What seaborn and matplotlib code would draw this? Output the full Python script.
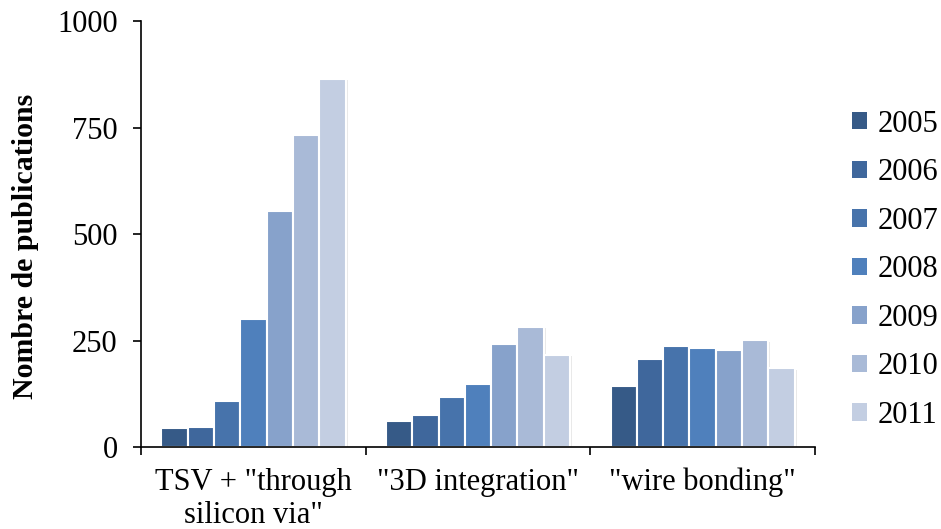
import pandas as pd
import matplotlib.pyplot as plt
import matplotlib.patheffects as pe
from matplotlib.patches import Patch
import seaborn as sns

# Data
categories = ['TSV + "through\nsilicon via"', '"3D integration"', '"wire bonding"']
years = ['2005', '2006', '2007', '2008', '2009', '2010', '2011']
tsv = [44, 46, 109, 300, 555, 732, 864]
integration_3d = [60, 74, 118, 149, 241, 282, 217]
wire_bonding = [144, 206, 238, 233, 228, 251, 185]
colors = ['#365A87', '#3F679C', '#4773AB', '#4F80BC', '#87A2CB', '#A9BAD7', '#C3CEE2']

rows = []
for cat, vals in zip(categories, [tsv, integration_3d, wire_bonding]):
    for yr, v in zip(years, vals):
        rows.append({'category': cat, 'year': yr, 'count': v})
df = pd.DataFrame(rows)

sns.set_style('white')
plt.rcParams['font.family'] = ['Liberation Serif', 'DejaVu Serif']
plt.rcParams['text.color'] = 'black'
plt.rcParams['xtick.color'] = 'black'
plt.rcParams['ytick.color'] = 'black'
plt.rcParams['axes.labelcolor'] = 'black'

fig = plt.figure(figsize=(9.41, 5.29), dpi=100)
ax = fig.add_axes([0.150, 0.155, 0.716, 0.805])

sns.barplot(data=df, x='category', y='count', hue='year', palette=colors, saturation=1,
            width=0.82, edgecolor='white', linewidth=1.5, legend=False, ax=ax)

# light drop shadow like the office-style original
shadow = [pe.SimplePatchShadow(offset=(1.5, -1), shadow_rgbFace='#aaaaaa', alpha=0.25), pe.Normal()]
for p in ax.patches:
    p.set_path_effects(shadow)

ax.set_ylim(0, 1000)
ax.set_yticks([0, 250, 500, 750, 1000])
ax.set_xlim(-0.5, 2.5)
ax.set_xticks([-0.5, 0.5, 1.5, 2.5])
ax.set_xticklabels([])
ax.set_xticks([0, 1, 2], minor=True)
ax.set_xticklabels(categories, minor=True)
ax.tick_params(axis='x', which='major', direction='out', length=6, width=1.2, color='black', bottom=True)
ax.tick_params(axis='x', which='minor', length=0, pad=15, labelsize=22)
ax.tick_params(axis='y', direction='out', length=6, width=1.2, color='black', left=True, labelsize=22, pad=11)

for side in ['top', 'right']:
    ax.spines[side].set_visible(False)
for side in ['left', 'bottom']:
    ax.spines[side].set_color('black')
    ax.spines[side].set_linewidth(1.2)

ax.set_xlabel('')
ax.set_ylabel('Nombre de publications', fontsize=21.5, fontweight='bold')
ax.yaxis.set_label_coords(-0.152, 0.47)

handles = [Patch(facecolor=c, edgecolor='none', label=y) for c, y in zip(colors, years)]
fig.legend(handles=handles, loc='center left', bbox_to_anchor=(0.905, 0.49), frameon=False,
           fontsize=22, handlelength=0.5, handleheight=0.5, handletextpad=0.35,
           labelspacing=0.64, borderaxespad=0, borderpad=0)

fig.savefig('out.png', dpi=100)
